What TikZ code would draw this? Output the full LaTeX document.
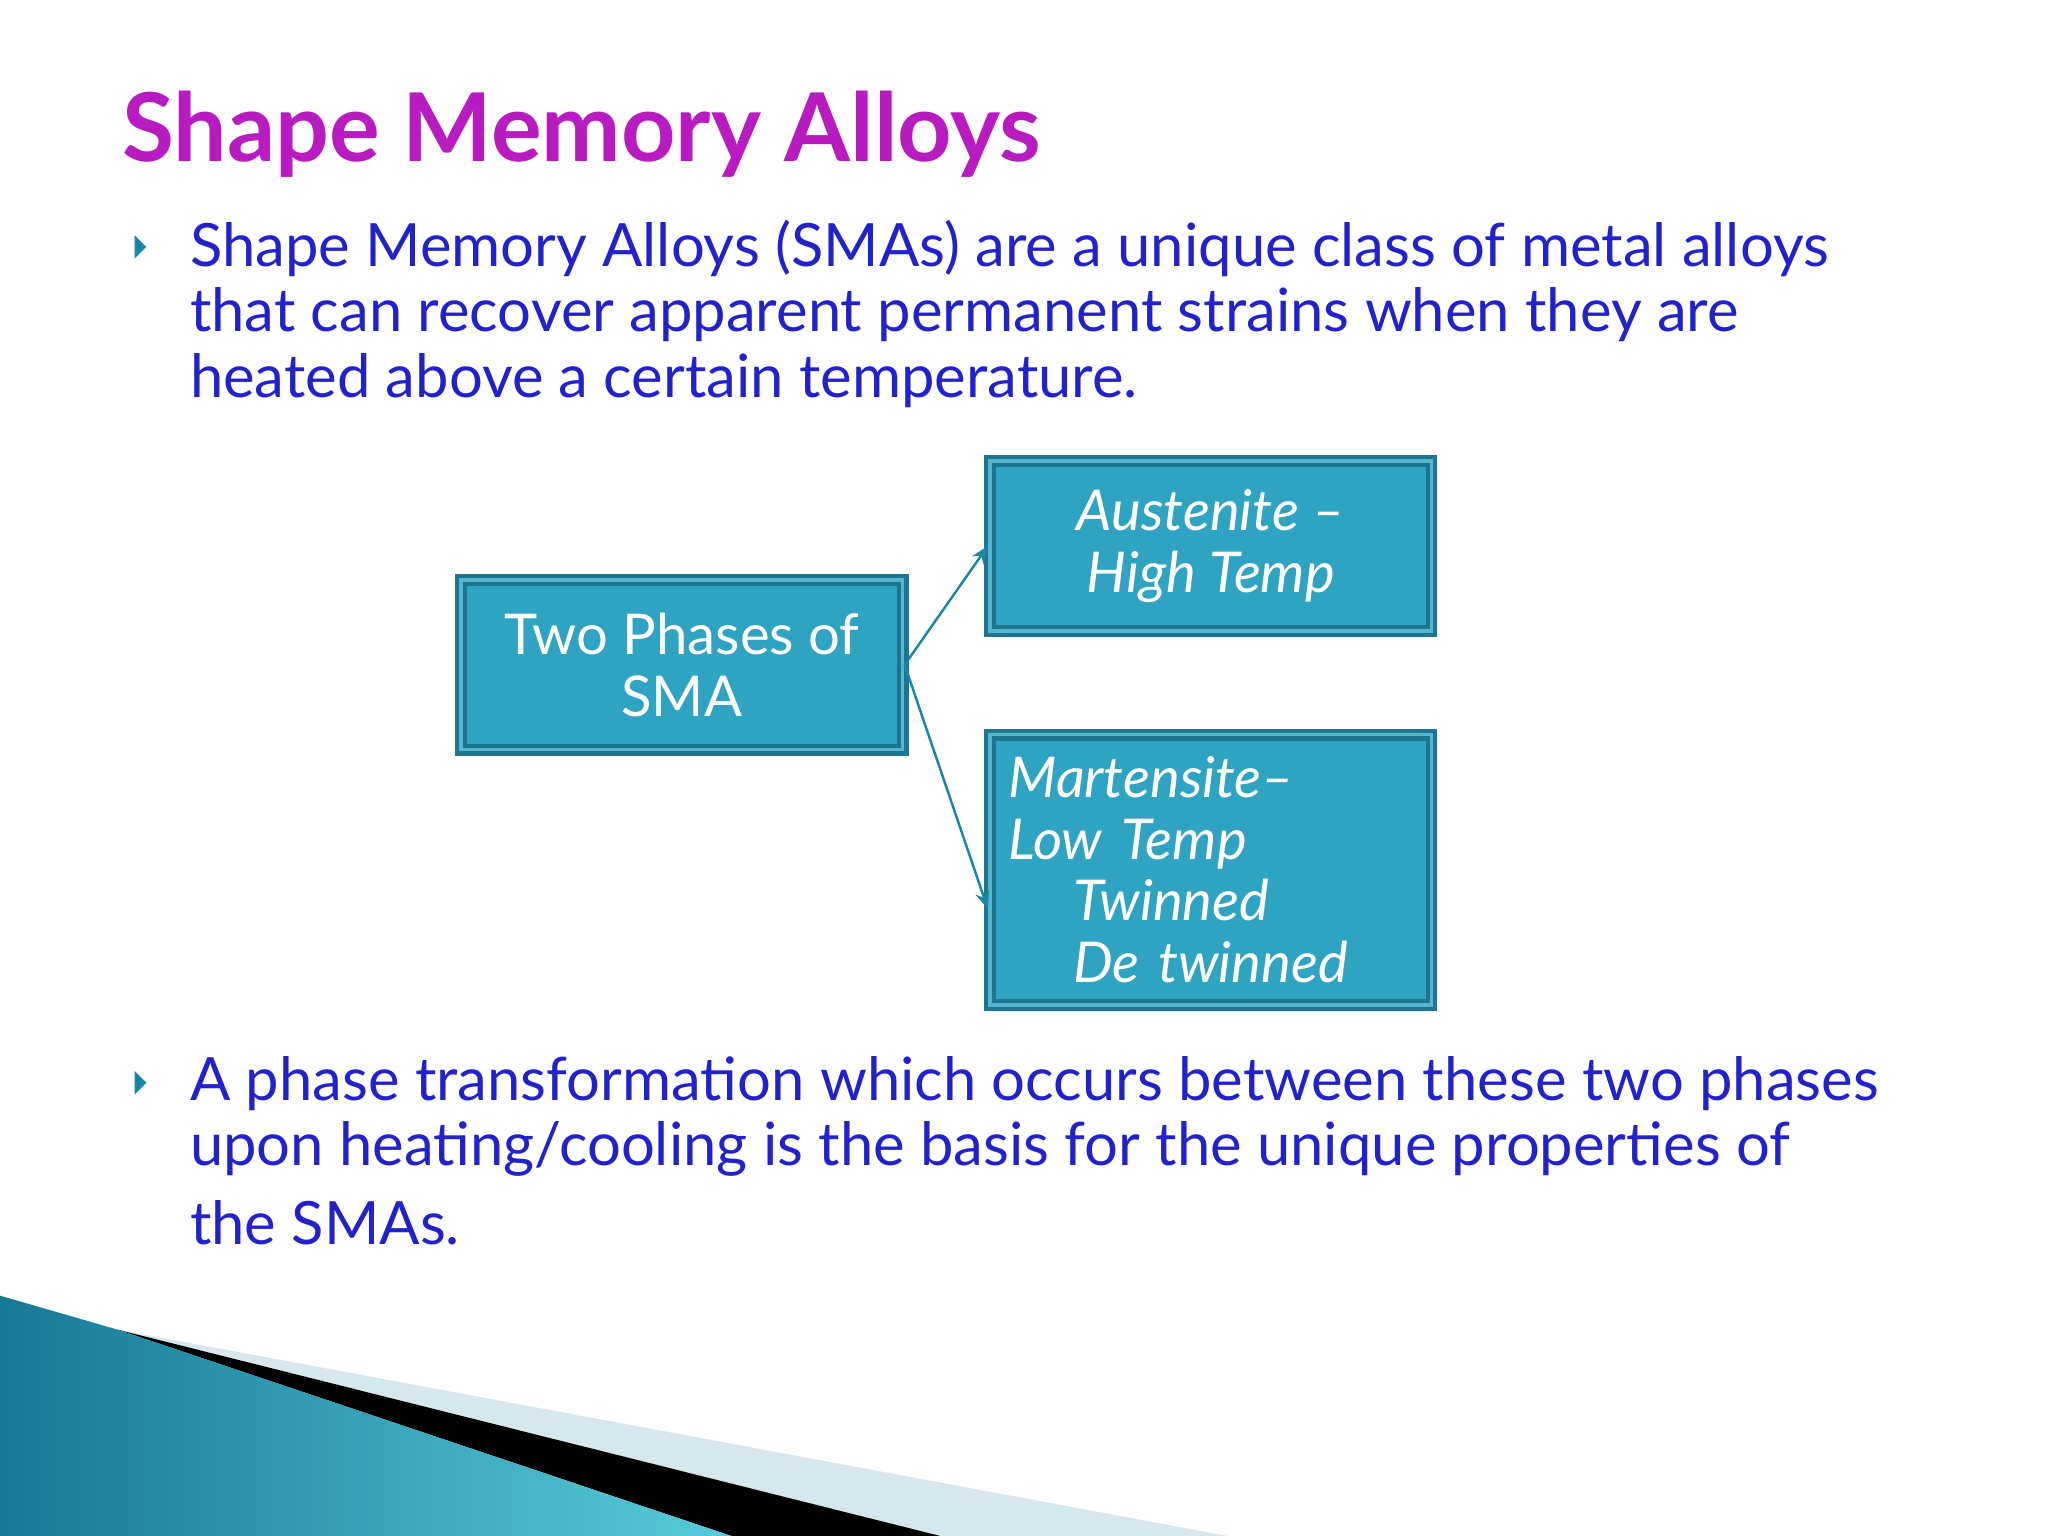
\documentclass[tikz,border=0pt]{standalone}
\usepackage{fontspec}
\setmainfont{Lato}
\usetikzlibrary{arrows.meta}
\definecolor{body}{HTML}{2222CC}
\definecolor{titlec}{HTML}{B81CC0}
\definecolor{boxfill}{HTML}{2EA3C2}
\definecolor{boxline}{HTML}{1D7690}
\definecolor{teal}{HTML}{1A86A6}
\definecolor{lightband}{HTML}{D6E7EE}
\newlength{\px}\setlength{\px}{0.01306cm}
\tikzset{
  phase/.style={draw=boxline, line width=1.2pt, fill=boxfill, double=boxfill!80!white, double distance=1pt, minimum width=338\px, text=white, font=\fontsize{16}{17.5}\selectfont},
  bodytext/.style={anchor=north west, text=body, align=left, font=\fontsize{17}{18.6}\selectfont, inner sep=0pt},
  bullet/.style={fill=teal, draw=none},
  conn/.style={draw=teal, line width=0.7pt, -{Stealth[length=5pt,width=4pt]}}
}
\begin{document}
\begin{tikzpicture}[x=0.01306cm,y=-0.01306cm]
\useasboundingbox (0,0) rectangle (1568,1176);
\fill[white] (0,0) rectangle (1568,1176);
% bottom decoration
\fill[lightband] (90,1018) -- (940,1176) -- (700,1176) -- cycle;
\fill[black] (90,1018) -- (720,1176) -- (560,1176) -- cycle;
\shade[left color=teal!90!black, right color=cyan!40!teal!70!white] (0,992) -- (90,1018) -- (560,1176) -- (0,1176) -- cycle;
% title
\node[anchor=west, text=titlec, font=\bfseries\fontsize{27}{32}\selectfont, inner sep=0pt] (title) at (93,103) {Shape Memory Alloys};
% bullets
\fill[bullet] (103,180) -- (112,189) -- (103,198) -- cycle;
\node[bodytext] (p1) at (145,168) {Shape Memory Alloys (SMAs) are a unique class of metal alloys\\that can recover apparent permanent strains when they are\\heated above a certain temperature.};
\fill[bullet] (103,820) -- (112,829) -- (103,838) -- cycle;
\node[bodytext] (p2) at (145,808) {A phase transformation which occurs between these two phases\\upon heating/cooling is the basis for the unique properties of\\[4pt]the SMAs.};
% boxes
\node[phase, minimum height=130\px, align=center] (two) at (522,509) {Two Phases of\\SMA};
\node[phase, minimum height=130\px, align=center] (aus) at (927,418) {\itshape Austenite –\\\itshape High Temp};
\node[phase, minimum height=207\px, text width=310\px, align=left] (mar) at (927,666) {\itshape Martensite–\\Low Temp\\\hspace*{1.15em}Twinned\\\hspace*{1.15em}De twinned};
\draw[conn] (two.east) -- (aus.west);
\draw[conn] (two.east) -- ([yshift=-30\px]mar.west);
\end{tikzpicture}
\end{document}
